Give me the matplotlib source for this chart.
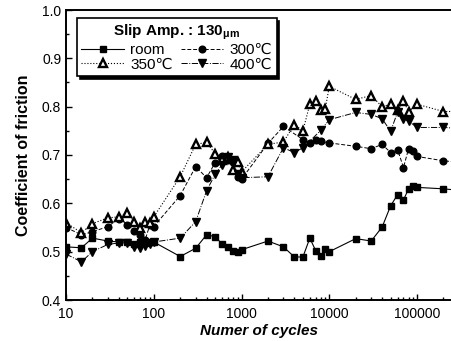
import matplotlib.pyplot as plt
from matplotlib.ticker import MultipleLocator, LogLocator, NullFormatter, FixedLocator

plt.rcParams['font.family'] = ['Liberation Sans', 'DejaVu Sans']

# cycles and coefficient of friction
room_x = [10, 15, 20, 30, 40, 50, 60, 70, 80, 90, 100, 200, 300, 400, 500, 600, 700, 800, 900, 1000,
          2000, 3000, 4000, 5000, 6000, 7000, 8000, 9000, 10000, 20000, 30000, 40000, 50000, 60000,
          70000, 80000, 90000, 100000, 200000, 300000]
room_y = [0.51, 0.508, 0.528, 0.522, 0.52, 0.52, 0.515, 0.52, 0.518, 0.52, 0.52, 0.49, 0.507, 0.535,
          0.531, 0.516, 0.51, 0.502, 0.50, 0.504, 0.522, 0.51, 0.489, 0.489, 0.528, 0.502, 0.491, 0.506,
          0.50, 0.527, 0.522, 0.551, 0.595, 0.618, 0.607, 0.630, 0.636, 0.633, 0.63, 0.627]

c300_x = [10, 15, 20, 30, 40, 50, 60, 70, 80, 90, 100, 200, 300, 400, 500, 600, 700, 800, 900, 1000,
          2000, 3000, 5000, 6000, 7000, 8000, 10000, 20000, 30000, 40000, 50000, 60000, 70000, 80000,
          90000, 100000, 200000, 300000]
c300_y = [0.55, 0.535, 0.541, 0.552, 0.568, 0.556, 0.543, 0.535, 0.525, 0.555, 0.552, 0.616, 0.676,
          0.653, 0.684, 0.697, 0.69, 0.685, 0.655, 0.65, 0.724, 0.759, 0.732, 0.725, 0.732, 0.728, 0.725,
          0.718, 0.713, 0.722, 0.705, 0.711, 0.674, 0.713, 0.709, 0.697, 0.688, 0.685]

c350_x = [10, 15, 20, 30, 40, 50, 60, 70, 80, 90, 100, 200, 300, 400, 500, 600, 700, 800, 900, 1000,
          2000, 3000, 4000, 5000, 6000, 7000, 8000, 9000, 10000, 20000, 30000, 40000, 50000, 60000,
          70000, 80000, 100000, 200000, 300000]
c350_y = [0.56, 0.539, 0.558, 0.570, 0.572, 0.58, 0.562, 0.55, 0.562, 0.56, 0.572, 0.655, 0.722, 0.726,
          0.703, 0.69, 0.695, 0.67, 0.685, 0.665, 0.722, 0.727, 0.763, 0.75, 0.805, 0.811, 0.794, 0.796,
          0.842, 0.815, 0.823, 0.80, 0.805, 0.794, 0.811, 0.79, 0.805, 0.79, 0.79]

c400_x = [10, 15, 20, 30, 40, 50, 60, 70, 80, 90, 100, 200, 300, 400, 500, 600, 700, 800, 900, 1000,
          2000, 3000, 4000, 5000, 8000, 10000, 20000, 30000, 40000, 50000, 60000, 70000, 80000,
          100000, 200000, 300000]
c400_y = [0.495, 0.479, 0.50, 0.515, 0.518, 0.518, 0.51, 0.508, 0.512, 0.516, 0.52, 0.528, 0.562, 0.626,
          0.66, 0.68, 0.695, 0.69, 0.66, 0.653, 0.655, 0.715, 0.705, 0.715, 0.751, 0.773, 0.788, 0.784,
          0.775, 0.749, 0.789, 0.775, 0.77, 0.757, 0.757, 0.755]

fig = plt.figure(figsize=(4.52, 3.41), dpi=100)
ax = fig.add_axes([66 / 452, 41 / 341, 386 / 452, 290 / 341])

l_room, = ax.plot(room_x, room_y, color="k", linestyle="-", linewidth=0.8, marker="s", markersize=4.5, label="room")
l300, = ax.plot(c300_x, c300_y, color="k", linestyle=(0, (4, 2)), linewidth=0.7, marker="o", markersize=4.8, label="300℃")
l350, = ax.plot(c350_x, c350_y, color="k", linestyle=":", linewidth=0.8, marker="^", markersize=5.5,
                markerfacecolor="white", markeredgewidth=1.7, label="350℃")
l400, = ax.plot(c400_x, c400_y, color="k", linestyle="-.", linewidth=0.7, marker="v", markersize=5.5, label="400℃")

ax.set_xscale("log")
ax.set_xlim(10, 2.5e5)
ax.set_ylim(0.4, 1.0)
ax.xaxis.set_major_locator(FixedLocator([10, 100, 1000, 10000, 100000]))
ax.set_xticklabels(["10", "100", "1000", "10000", "100000"])
ax.xaxis.set_minor_locator(LogLocator(base=10, subs=range(2, 10), numticks=20))
ax.xaxis.set_minor_formatter(NullFormatter())
ax.yaxis.set_major_locator(MultipleLocator(0.1))
ax.yaxis.set_minor_locator(MultipleLocator(0.05))
ax.set_yticklabels(["%.1f" % v for v in ax.get_yticks()])

ax.tick_params(which="both", direction="in", labelsize=10, width=1)
ax.tick_params(which="major", length=4)
ax.tick_params(which="minor", length=2)
ax.tick_params(axis="x", pad=5)
for s in ["left", "bottom", "top"]:
    ax.spines[s].set_linewidth(1.4)
ax.spines["right"].set_visible(False)

ax.set_xlabel("Numer of cycles", fontsize=11, fontweight="bold", fontstyle="italic", labelpad=2)
ax.set_ylabel("Coefficient of friction", fontsize=11.5, fontweight="bold", labelpad=8)

# column-first filling: room/350 in column 1, 300/400 in column 2
leg = ax.legend([l_room, l350, l300, l400], ["room", "350℃", "300℃", "400℃"],
                loc="upper left", bbox_to_anchor=(0.028, 0.972), borderaxespad=0, ncol=2,
                title=r"Slip Amp. : 130$_{\mathregular{\mu m}}$", fontsize=11, handlelength=2.8,
                handletextpad=0.4, columnspacing=0.5, labelspacing=0.05, borderpad=0.3,
                fancybox=False, framealpha=1, edgecolor="k",
                shadow={"color": "k", "alpha": 1})
leg.get_title().set_fontweight("bold")
leg.get_title().set_fontsize(11)
leg.get_frame().set_linewidth(1.2)

fig.savefig("out.png", dpi=100)
